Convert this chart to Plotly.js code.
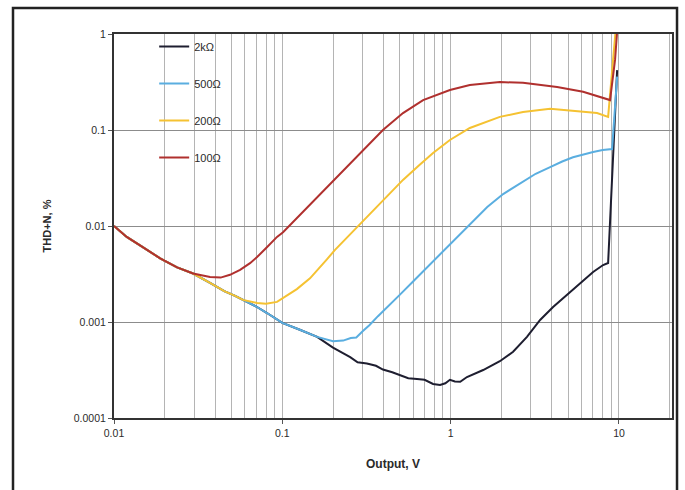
<!DOCTYPE html>
<html>
<head>
<meta charset="utf-8">
<script src="https://cdn.plot.ly/plotly-3.0.1.min.js"></script>
<style>
  html, body { margin: 0; padding: 0; background: #ffffff; }
  #chart { width: 685px; height: 490px; }
</style>
</head>
<body>
<div id="chart"></div>
<script>
// Series names
const seriesNames = ['2kΩ', '500Ω', '200Ω', '100Ω'];

// 2kΩ
const x2k = [0.01, 0.0119, 0.0149, 0.0188, 0.0237, 0.0295, 0.0372, 0.0452, 0.0524, 0.0584, 0.07, 0.0811, 0.1, 0.127, 0.161, 0.2, 0.253, 0.28, 0.318, 0.36, 0.396, 0.45, 0.5, 0.56, 0.631, 0.7, 0.786, 0.865, 0.93, 0.99, 1.06, 1.14, 1.25, 1.4, 1.56, 1.96, 2.35, 2.84, 3.4, 4.06, 4.92, 5.88, 7.02, 8.05, 8.62, 9.75];
const y2k = [0.01, 0.0077, 0.006, 0.0046, 0.0037, 0.0032, 0.00255, 0.0021, 0.00187, 0.0017, 0.00145, 0.00124, 0.00098, 0.00083, 0.0007, 0.00054, 0.00043, 0.00038, 0.00037, 0.00035, 0.00032, 0.0003, 0.00028, 0.00026, 0.000255, 0.00025, 0.000226, 0.000221, 0.00023, 0.00025, 0.00024, 0.000238, 0.000267, 0.00029, 0.000316, 0.00039, 0.00049, 0.0007, 0.00105, 0.00143, 0.00191, 0.00255, 0.00332, 0.00392, 0.00412, 0.42];

// 500Ω
const x500 = [0.01, 0.0119, 0.0149, 0.0188, 0.0237, 0.0295, 0.0372, 0.0452, 0.0524, 0.0584, 0.07, 0.0811, 0.1, 0.127, 0.161, 0.2, 0.23, 0.255, 0.275, 0.3, 0.33, 0.37, 0.436, 0.5, 0.6, 0.7, 0.83, 1.03, 1.3, 1.65, 2.05, 2.6, 3.2, 3.9, 4.6, 5.33, 6.2, 7.02, 8.0, 9.1, 9.75];
const y500 = [0.01, 0.0077, 0.006, 0.0046, 0.0037, 0.0032, 0.00255, 0.0021, 0.00187, 0.0017, 0.00145, 0.00124, 0.00098, 0.00083, 0.0007, 0.00063, 0.00064, 0.00068, 0.00069, 0.0008, 0.00093, 0.00115, 0.00151, 0.00193, 0.00266, 0.0035, 0.00475, 0.0068, 0.0105, 0.0158, 0.0215, 0.028, 0.035, 0.041, 0.047, 0.052, 0.056, 0.059, 0.062, 0.0634, 0.36];

// 200Ω
const x200 = [0.01, 0.0119, 0.0149, 0.0188, 0.0237, 0.0295, 0.0372, 0.0452, 0.0524, 0.0584, 0.0708, 0.08, 0.093, 0.107, 0.122, 0.146, 0.165, 0.184, 0.205, 0.23, 0.26, 0.29, 0.34, 0.396, 0.521, 0.65, 0.786, 0.99, 1.3, 1.96, 2.69, 3.9, 5.33, 7.41, 8.62, 9.6];
const y200 = [0.01, 0.0077, 0.006, 0.0046, 0.0037, 0.0032, 0.00255, 0.0021, 0.00187, 0.0017, 0.00158, 0.00155, 0.00162, 0.0019, 0.0022, 0.00285, 0.0036, 0.0045, 0.0056, 0.0069, 0.0085, 0.0103, 0.0138, 0.0183, 0.0302, 0.043, 0.0576, 0.0787, 0.105, 0.137, 0.154, 0.166, 0.158, 0.15, 0.137, 1.2];

// 100Ω
const x100 = [0.01, 0.0119, 0.0149, 0.0188, 0.0237, 0.0295, 0.0372, 0.0430, 0.0489, 0.0561, 0.0643, 0.0708, 0.081, 0.093, 0.101, 0.12, 0.146, 0.161, 0.2, 0.278, 0.396, 0.521, 0.686, 0.99, 1.3, 1.96, 2.69, 4.29, 6.12, 8.85, 9.48, 9.8];
const y100 = [0.01, 0.0077, 0.006, 0.0046, 0.0037, 0.0032, 0.00295, 0.0029, 0.0031, 0.0035, 0.0041, 0.00475, 0.006, 0.0077, 0.0086, 0.0117, 0.0167, 0.0196, 0.0294, 0.053, 0.1, 0.15, 0.205, 0.261, 0.294, 0.316, 0.31, 0.28, 0.25, 0.205, 0.54, 1.2];

// Axis ticks
const xTickVals = [0.01, 0.1, 1, 10];
const xTickText = ['0.01', '0.1', '1', '10'];
const yTickVals = [0.0001, 0.001, 0.01, 0.1, 1];
const yTickText = ['0.0001', '0.001', '0.01', '0.1', '1'];

const colors = ['#1e1e30', '#5aaee0', '#f5c232', '#b0302e'];
const xs = [x2k, x500, x200, x100];
const ys = [y2k, y500, y200, y100];

const traces = seriesNames.map((n, i) => ({
  x: xs[i], y: ys[i], name: n, type: 'scatter', mode: 'lines',
  legendgroup: 'g' + i,
  line: { color: colors[i], width: 2 }
}));

const tickFont = { family: 'Liberation Sans, Arial, sans-serif', size: 10.5, color: '#2a2a2a' };

const layout = {
  width: 685, height: 490,
  margin: { l: 114, r: 13, t: 34, b: 72 },
  paper_bgcolor: '#ffffff', plot_bgcolor: '#ffffff',
  showlegend: true,
  legend: {
    x: 0.072, y: 1.005, xanchor: 'left', yanchor: 'top',
    bgcolor: 'rgba(0,0,0,0)', borderwidth: 0,
    traceorder: 'grouped', tracegroupgap: 18,
    font: { family: 'Liberation Sans Narrow, Arial Narrow, Liberation Sans, sans-serif', size: 11, color: '#2a2a2a' }
  },
  xaxis: {
    type: 'log', range: [-2, 1.315],
    tickvals: xTickVals, ticktext: xTickText,
    tickfont: tickFont,
    ticks: 'outside', ticklen: 4, tickcolor: '#555',
    showgrid: true, gridcolor: '#b4b4b4', gridwidth: 1,
    minor: { dtick: 'D1', showgrid: true, gridcolor: '#b4b4b4', gridwidth: 1, ticks: '' },
    showline: true, linecolor: '#333', linewidth: 2, mirror: true,
    zeroline: false,
    title: { text: '<b>Output, V</b>', font: { family: 'Liberation Sans Narrow, Arial Narrow, Liberation Sans, sans-serif', size: 12, color: '#2a2a2a' }, standoff: 22 }
  },
  yaxis: {
    type: 'log', range: [-4, 0],
    tickvals: yTickVals, ticktext: yTickText,
    tickfont: tickFont,
    ticks: 'outside', ticklen: 4, tickcolor: '#555',
    showgrid: true, gridcolor: '#8c8c8c', gridwidth: 1,
    showline: true, linecolor: '#333', linewidth: 2, mirror: true,
    zeroline: false,
    title: { text: '<b>THD+N, %</b>', font: { family: 'Liberation Sans Narrow, Arial Narrow, Liberation Sans, sans-serif', size: 11, color: '#2a2a2a' }, standoff: 20 }
  },
  shapes: [{
    type: 'rect', xref: 'paper', yref: 'paper',
    x0: -0.181, x1: 1.009, y0: -0.21, y1: 1.068,
    line: { color: '#222', width: 2.5 }, fillcolor: 'rgba(0,0,0,0)', layer: 'below'
  }]
};

Plotly.newPlot('chart', traces, layout, { displayModeBar: false, staticPlot: true });
</script>
</body>
</html>
